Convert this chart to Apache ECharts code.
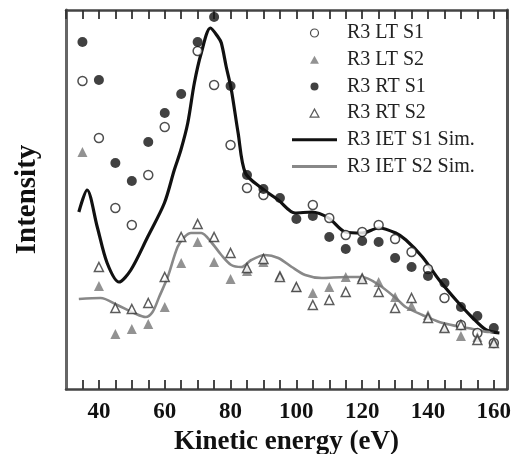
<!DOCTYPE html>
<html>
<head>
<meta charset="utf-8">
<script src="https://cdn.jsdelivr.net/npm/echarts@6/dist/echarts.min.js"></script>
<style>
html,body{margin:0;padding:0;background:#fff;}
#chart{width:515px;height:454px;}
</style>
</head>
<body>
<div id="chart"></div>
<script>
// Kinetic energies of the measured points (eV)
const energies = [35,40,45,50,55,60,65,70,75,80,85,90,95,100,105,110,115,120,125,130,135,140,145,150,155,160];
// Intensities (arbitrary units)
const ltS1 = [308,251,181,164,214,262,null,338,304,244,201,194,null,null,184,171,154,157,164,150,137,120,91,64,56,46];
const ltS2 = [237,103,55,60,65,82,126,147,127,110,118,127,114,102,96,102,112,112,107,92,83,74,62,53,52,48];
const rtS1 = [347,309,226,208,247,276,295,347,372,303,214,200,191,170,173,152,140,148,147,131,122,113,106,82,73,61];
const rtS2 = [null,122,81,80,86,112,152,165,152,136,121,130,112,102,84,89,97,110,97,81,91,71,61,64,49,46];
// Simulated curves
const simS1E = [33.9,36.4,39.5,42.5,46.1,49.7,54.8,59.9,62.9,64.9,67.0,69.0,71.1,73.9,76.2,77.2,78.7,80.2,82.3,84.5,89.4,94.5,99.6,104.7,109.8,114.9,120.0,125.1,130.2,133.3,138.3,143.4,148.5,153.6,157.7,161.7];
const simS1 = [177,199,162,126,107,119,152,186,219,239,266,306,336,361,352,346,322,300,256,216,201,189,176,177,171,157,156,161,156,149,132,109,89,71,59,56];
const simS2E = [33.9,40.5,45.6,50.7,54.2,56.3,58.3,60.9,63.9,66.0,68.0,71.1,74.1,77.2,80.2,83.3,86.3,90.4,94.5,98.6,102.7,107.7,114.9,120.0,125.1,130.2,133.2,138.3,143.4,148.5,153.6,158.7,160.0];
const simS2 = [90,91,84,76,72,77,92,112,142,152,156,156,147,134,124,122,129,134,131,122,114,111,112,112,104,91,82,74,67,63,60,57,57];
// Axis ticks (eV): tick spacing and the labelled values
const tickStep = 5;
const tickLabels = ['40','60','80','100','120','140','160'];
const seriesNames = ['R3 LT S1','R3 LT S2','R3 RT S1','R3 RT S2','R3 IET S1 Sim.','R3 IET S2 Sim.'];

function pairs(xs, ys){
  const out = [];
  for (let i = 0; i < xs.length; i++) if (ys[i] !== null) out.push([xs[i], ys[i]]);
  return out;
}

const FONT = 'Liberation Serif';
const axisColor = '#444';
const X_MIN = 30, X_MAX = 164, Y_MAX = 379;
const labelFmt = function (v) { return tickLabels.indexOf(String(v)) >= 0 ? String(v) : ''; };

function xAx(pos, showLabel, extra){
  return Object.assign({
    type:'value', gridIndex:0, position:pos, min:X_MIN, max:X_MAX, interval:tickStep,
    axisLine:{show:true, onZero:false, lineStyle:{color:axisColor, width:2.5}},
    axisTick:{show:true, inside:true, length:9, lineStyle:{color:'#333', width:1.8}},
    axisLabel:{show:showLabel, showMinLabel:false, showMaxLabel:false, formatter:labelFmt,
      fontFamily:FONT, fontWeight:'bold', fontSize:23, color:'#111', margin:12},
    splitLine:{show:false}
  }, extra || {});
}

const lineIcon = 'path://M0,0 L45,0 L45,3 L0,3 Z';
const triIcon = 'path://M5,0 L10,9 L0,9 Z';

const chart = echarts.init(document.getElementById('chart'), null, {renderer:'canvas'});
chart.setOption({
  backgroundColor:'#fff',
  animation:false,
  grid:{left:66, right:8, top:10, bottom:65, containLabel:false, outerBoundsMode:'none'},
  legend:{
    orient:'vertical', left:287, top:18,
    itemWidth:45, itemHeight:8, itemGap:6.7,
    textStyle:{fontFamily:FONT, fontSize:20, color:'#222', lineHeight:20, padding:[0,0,0,5]},
    data:[
      {name:seriesNames[0], icon:'circle', itemStyle:{color:'#fff', borderColor:'#222', borderWidth:1.2}},
      {name:seriesNames[1], icon:triIcon, itemStyle:{color:'#777', borderWidth:0}},
      {name:seriesNames[2], icon:'circle', itemStyle:{color:'#111', borderWidth:0}},
      {name:seriesNames[3], icon:triIcon, itemStyle:{color:'#fff', borderColor:'#333', borderWidth:1.2}},
      {name:seriesNames[4], icon:lineIcon, itemStyle:{color:'#111', borderWidth:0}},
      {name:seriesNames[5], icon:lineIcon, itemStyle:{color:'#888', borderWidth:0}}
    ]
  },
  xAxis:[
    xAx('bottom', true, {name:'Kinetic energy (eV)', nameLocation:'middle', nameGap:36,
      nameTextStyle:{fontFamily:FONT, fontWeight:'bold', fontSize:27, color:'#111'}}),
    xAx('top', false)
  ],
  yAxis:[
    {type:'value', gridIndex:0, position:'left', min:0, max:Y_MAX,
     axisLine:{show:true, onZero:false, lineStyle:{color:'#666', width:3}},
     axisTick:{show:false}, axisLabel:{show:false}, splitLine:{show:false},
     name:'Intensity', nameLocation:'middle', nameGap:24,
     nameTextStyle:{fontFamily:FONT, fontWeight:'bold', fontSize:29, color:'#111'}},
    {type:'value', gridIndex:0, position:'right', min:0, max:Y_MAX,
     axisLine:{show:true, onZero:false, lineStyle:{color:'#555', width:3}},
     axisTick:{show:false}, axisLabel:{show:false}, splitLine:{show:false}}
  ],
  series:[
    {name:seriesNames[0], type:'scatter', z:5, symbol:'circle', symbolSize:9,
     itemStyle:{color:'#fff', borderColor:'#222', borderWidth:1.5}, data:pairs(energies, ltS1)},
    {name:seriesNames[1], type:'scatter', z:5, symbol:'triangle', symbolSize:10,
     itemStyle:{color:'#777'}, data:pairs(energies, ltS2)},
    {name:seriesNames[2], type:'scatter', z:6, symbol:'circle', symbolSize:10,
     itemStyle:{color:'#111'}, data:pairs(energies, rtS1)},
    {name:seriesNames[3], type:'scatter', z:6, symbol:'triangle', symbolSize:9,
     itemStyle:{color:'#fff', borderColor:'#333', borderWidth:1.5}, data:pairs(energies, rtS2)},
    {name:seriesNames[4], type:'line', z:3, smooth:0.3, symbol:'none', showSymbol:false,
     lineStyle:{color:'#111', width:3.2}, itemStyle:{color:'#111'}, data:pairs(simS1E, simS1)},
    {name:seriesNames[5], type:'line', z:3, smooth:0.3, symbol:'none', showSymbol:false,
     lineStyle:{color:'#888', width:2.6}, itemStyle:{color:'#888'}, data:pairs(simS2E, simS2)}
  ]
});
</script>
</body>
</html>
